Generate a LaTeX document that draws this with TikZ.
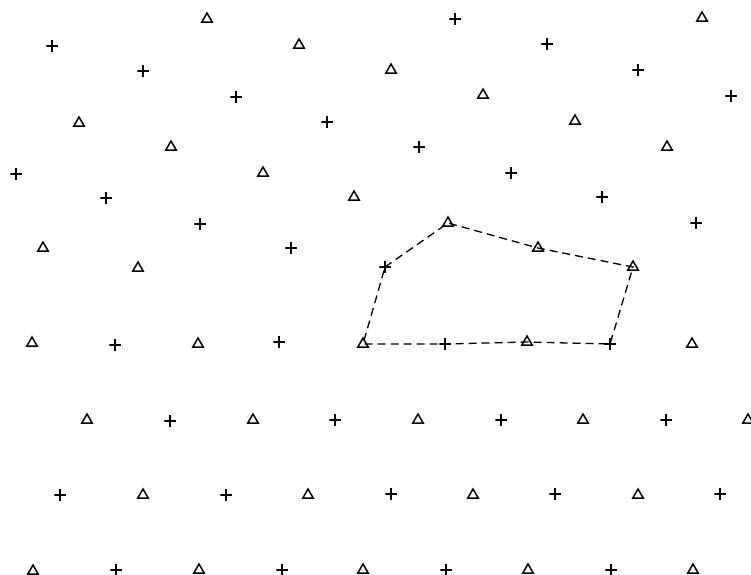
\documentclass[tikz,border=0pt]{standalone}
\usepackage{tikz}
\usetikzlibrary{shapes.geometric}
\tikzset{
  trimk/.style={regular polygon, regular polygon sides=3, draw, line width=1.5pt,
                inner sep=0pt, minimum size=12pt, yshift=-1pt},
  plusmk/.style={inner sep=0pt, minimum size=11.5pt,
                 path picture={\draw[line width=1.25pt]
                   (path picture bounding box.north) -- (path picture bounding box.south)
                   (path picture bounding box.west) -- (path picture bounding box.east);}},
  outline/.style={line width=1.3pt, dash pattern=on 8pt off 5pt},
}

\begin{document}
\begin{tikzpicture}[x=1pt, y=-1pt]
    \useasboundingbox (0,0) rectangle (751,574);
    % triangles
    \foreach \x/\y [count=\i] in {207/18, 702/17, 299/44, 391/69, 483/94, 79/122, 575/120, 171/146,
        667/146, 263/172, 354/196, 448/222, 43/247, 538/247, 138/267, 633/266,
        32/342, 198/343, 363/343, 527/341, 692/343,
        87/419, 253/419, 418/419, 583/419, 748/419,
        143/494, 308/494, 473/494, 638/494,
        33/570, 199/569, 363/569, 528/569, 693/569}
      \node[trimk] (t\i) at (\x,\y) {};
    % crosses
    \foreach \x/\y [count=\i] in {455/19, 52/46, 547/44, 143/71, 638/70, 236/97, 731/96, 327/122,
        419/147, 16/174, 511/173, 106/198, 602/197, 200/224, 696/223, 291/248, 385/267,
        115/345, 279/342, 445/344, 610/344,
        170/421, 335/420, 501/420, 666/420,
        60/495, 226/495, 391/494, 555/494, 720/494,
        116/570, 282/570, 446/570, 611/570}
      \node[plusmk] (p\i) at (\x,\y) {};

    \draw[outline] (p17.center) -- (t12.center) -- (t14.center) -- (t16.center)
      -- (p21.center) -- (t20.center) -- (p20.center) -- (t19.center) -- cycle;
\end{tikzpicture}
\end{document}
